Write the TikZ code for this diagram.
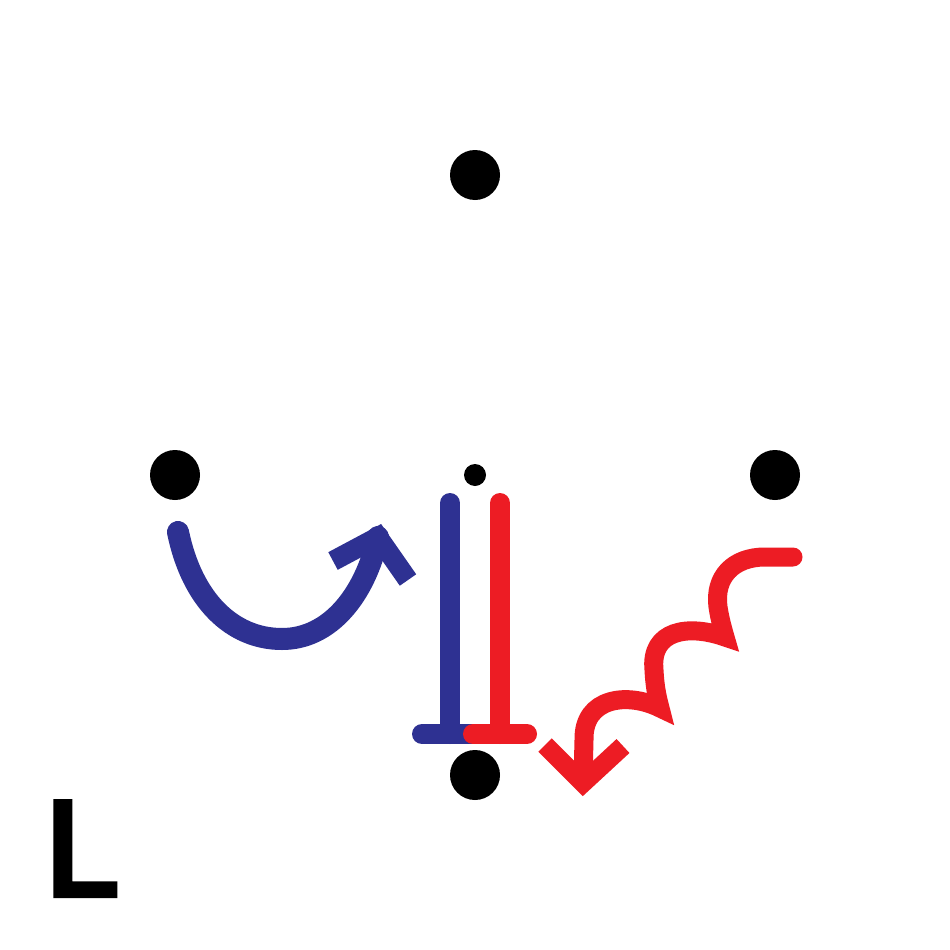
\documentclass[tikz,border=0pt]{standalone}
\usepackage{fontspec}
\newfontfamily\lfont[FakeBold=5]{DejaVu Sans}
\definecolor{myblue}{HTML}{2E3192}
\definecolor{myred}{HTML}{ED1C24}
\begin{document}
\begin{tikzpicture}[x=1pt,y=-1pt,
  dot/.style={circle,fill=black,inner sep=0pt,minimum size=50pt},
  smalldot/.style={circle,fill=black,inner sep=0pt,minimum size=22pt},
  bluebar/.style={draw=myblue,line width=20pt,line cap=round},
  redbar/.style={draw=myred,line width=20pt,line cap=round},
  bluecurve/.style={draw=myblue,line width=22pt,line cap=round},
  redcurve/.style={draw=myred,line width=19pt,line cap=round,line join=miter},
  bluehead/.style={draw=myblue,line width=20pt,line cap=butt,line join=miter},
  redhead/.style={draw=myred,line width=19pt,line cap=butt,line join=miter}]
\useasboundingbox (0,0) rectangle (950,950);
\fill[white] (0,0) rectangle (950,950);
% dots
\node[dot] (top) at (475,175) {};
\node[dot] (left) at (175,475) {};
\node[dot] (right) at (775,475) {};
\node[dot] (bottom) at (475,775) {};
\node[smalldot] (center) at (475,475) {};
% coordinates
\coordinate (bs) at (178,532);
\coordinate (bm) at (282,639);
\coordinate (be) at (378,537);
\coordinate (bl) at (333,561);
\coordinate (br) at (408,580);
\coordinate (bvt) at (450,503);
\coordinate (bvb) at (450,734);
\coordinate (bbl) at (422,734);
\coordinate (bbr) at (478,734);
\coordinate (rvt) at (500,503);
\coordinate (rvb) at (500,734);
\coordinate (rbl) at (473,734);
\coordinate (rbr) at (527,734);
\coordinate (rs) at (793,557);
\coordinate (rk1) at (725,637);
\coordinate (rk2) at (660,708);
\coordinate (re) at (583,780);
\coordinate (rl) at (545,745);
\coordinate (rr) at (623,746);
% blue curved arrow
\draw[bluecurve] (bs) .. controls (192,600) and (232,639) .. (bm)
  .. controls (330,639) and (365,595) .. (be);
\draw[bluehead] (bl) -- (be) -- (br);
% T bars
\draw[bluebar] (bvt) -- (bvb);
\draw[bluebar] (bbl) -- (bbr);
\draw[redbar] (rvt) -- (rvb);
\draw[redbar] (rbl) -- (rbr);
% red squiggle arrow
\draw[redcurve] (rs) -- (765,557) .. controls (733,557) and (714,577) .. (718,607)
  .. controls (720,620) and (723,630) .. (rk1)
  .. controls (688,624) and (650,630) .. (654,670)
  .. controls (655,690) and (658,700) .. (rk2)
  .. controls (628,692) and (583,697) .. (584,740) -- (re);
\draw[redhead] (rl) -- (583,783) -- (rr);
% label
\node[anchor=base west,inner sep=0pt,font=\lfont\fontsize{127}{127}\selectfont] (lab) at (44,895) {L};
\end{tikzpicture}
\end{document}
